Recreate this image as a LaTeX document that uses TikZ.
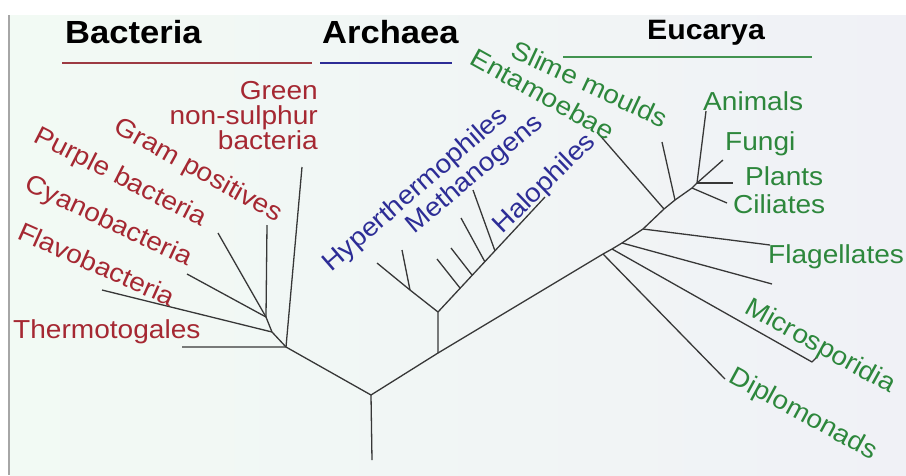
\documentclass[tikz,border=0pt]{standalone}
\usepackage{fontspec}
\setmainfont{Liberation Sans}
\newfontfamily\treefont[FakeStretch=1.08]{Liberation Sans}
\definecolor{bactred}{RGB}{165,40,50}
\definecolor{archblue}{RGB}{45,45,150}
\definecolor{eukgreen}{RGB}{45,135,60}
\definecolor{treegray}{RGB}{55,55,55}
\definecolor{paperl}{RGB}{242,250,244}
\definecolor{paperr}{RGB}{240,241,246}

\begin{document}
\begin{tikzpicture}[x=1pt, y=-1pt,
  branch/.style={draw=treegray, line width=1.3pt, line join=round},
  taxon/.style={font=\treefont\fontsize{26}{25}\selectfont, inner sep=0pt},
  bact/.style={taxon, text=bactred},
  arch/.style={taxon, text=archblue},
  euk/.style={taxon, text=eukgreen},
  domainhead/.style={font=\treefont\bfseries\fontsize{32}{34}\selectfont, inner sep=0pt, anchor=base west},
  domrule/.style={line width=1.6pt},
]

% Paper
\useasboundingbox (0,0) rectangle (906,475);
\shade[left color=paperl, right color=paperr] (10,15) rectangle (906,475);
\draw[gray!70, line width=2pt] (9,15) -- (9,475);

% Domain headings
\node[domainhead] (bacteria) at (65,43) {Bacteria};
\node[domainhead] (archaea) at (322,43) {Archaea};
\node[domainhead, font=\treefont\bfseries\fontsize{28}{30}\selectfont] (eucarya) at (647,39) {Eucarya};
\coordinate (ruleBa) at (62,63);  \coordinate (ruleBb) at (312,63);
\coordinate (ruleAa) at (320,63); \coordinate (ruleAb) at (452,63);
\coordinate (ruleEa) at (563,57); \coordinate (ruleEb) at (812,57);
\draw[domrule, draw=bactred!80!gray] (ruleBa) -- (ruleBb);
\draw[domrule, draw=archblue] (ruleAa) -- (ruleAb);
\draw[domrule, draw=eukgreen!90!white] (ruleEa) -- (ruleEb);

% Trunk
\coordinate (base) at (372,460);
\coordinate (rootJ) at (371,395);
\coordinate (archS) at (438,353);
\coordinate (eukA) at (603,254);
\coordinate (eukB) at (612,249);
\coordinate (eukC) at (622,243);
\coordinate (eukD) at (643,229);
\coordinate (eukE) at (664,209);
\coordinate (eukF) at (675,200);
\coordinate (eukG) at (692,188);
\coordinate (eukH) at (697,183);
\draw[branch] (base) -- (rootJ) -- (archS) -- (eukA) -- (eukB) -- (eukC)
  -- (eukD) -- (eukE) -- (eukF) -- (eukG) -- (eukH);

% Bacteria
\coordinate (bactJ) at (286,347);
\coordinate (bactK) at (272,332);
\coordinate (bactL) at (266,317);
\coordinate (thermoT) at (182,347);
\coordinate (greenT) at (302,167);
\coordinate (flavoT) at (102,290);
\coordinate (cyanoT) at (187,274);
\coordinate (purpleT) at (218,233);
\coordinate (gramT) at (267,225);
\draw[branch] (rootJ) -- (bactJ) -- (thermoT);
\draw[branch] (bactJ) -- (greenT);
\draw[branch] (bactJ) -- (bactK) -- (bactL) -- (gramT);
\draw[branch] (bactK) -- (flavoT);
\draw[branch] (bactL) -- (cyanoT);
\draw[branch] (bactL) -- (purpleT);

\node[bact, anchor=base west] (thermo) at (13,338) {Thermotogales};
\node[bact, rotate=-24] (flavo) at (97,264) {Flavobacteria};
\node[bact, rotate=-25] (cyano) at (108,222) {Cyanobacteria};
\node[bact, rotate=-27] (purple) at (120,178) {Purple bacteria};
\node[bact, rotate=-29] (gram) at (198,171) {Gram positives};
\node[bact, align=right, anchor=north east] (green) at (318,81) {Green\\non-sulphur\\bacteria};

% Archaea
\coordinate (archJ) at (438,312);
\coordinate (hyperS) at (410,290);
\coordinate (hyperT) at (377,263);
\coordinate (hyperU) at (402,250);
\coordinate (haloT) at (545,197);
\coordinate (tickA) at (460,288); \coordinate (tickAt) at (437,259);
\coordinate (tickB) at (472,275); \coordinate (tickBt) at (451,248);
\coordinate (tickC) at (485,262); \coordinate (tickCt) at (461,218);
\coordinate (tickD) at (495,251); \coordinate (tickDt) at (473,190);
\draw[branch] (archS) -- (archJ) -- (hyperS) -- (hyperT);
\draw[branch] (hyperS) -- (hyperU);
\draw[branch] (archJ) -- (haloT);
\draw[branch] (tickA) -- (tickAt);
\draw[branch] (tickB) -- (tickBt);
\draw[branch] (tickC) -- (tickCt);
\draw[branch] (tickD) -- (tickDt);

\node[arch, rotate=41] (hyper) at (416,190) {Hyperthermophiles};
\node[arch, rotate=40] (metha) at (475,175) {Methanogens};
\node[arch, rotate=44] (halo) at (545,184) {Halophiles};

% Eucarya
\coordinate (diploT) at (725,379);
\coordinate (microT) at (812,362);
\coordinate (microH) at (817,357);
\coordinate (plainT) at (772,284);
\coordinate (flagT) at (770,245);
\coordinate (entaT) at (597,132);
\coordinate (slimeT) at (662,142);
\coordinate (ciliT) at (727,203);
\coordinate (animT) at (706,111);
\coordinate (fungT) at (723,160);
\coordinate (plantT) at (733,183);
\draw[branch] (eukA) -- (diploT);
\draw[branch] (eukB) -- (microT) -- (microH);
\draw[branch] (eukC) -- (plainT);
\draw[branch] (eukD) -- (flagT);
\draw[branch] (eukE) -- (entaT);
\draw[branch] (eukF) -- (slimeT);
\draw[branch] (eukG) -- (ciliT);
\draw[branch] (eukH) -- (animT);
\draw[branch] (eukH) -- (fungT);
\draw[branch] (eukH) -- (plantT);

\node[euk, rotate=-25] (slime) at (590,84) {Slime moulds};
\node[euk, rotate=-29] (enta) at (543,94) {Entamoebae};
\node[euk, anchor=base west] (anim) at (703,110) {Animals};
\node[euk, anchor=base west] (fung) at (725,150) {Fungi};
\node[euk, anchor=base west] (plant) at (745,185) {Plants};
\node[euk, anchor=base west] (cili) at (733,213) {Ciliates};
\node[euk, anchor=base west] (flag) at (768,263) {Flagellates};
\node[euk, rotate=-29] (micro) at (820,347) {Microsporidia};
\node[euk, rotate=-28.5] (diplo) at (803,415) {Diplomonads};

\end{tikzpicture}
\end{document}
